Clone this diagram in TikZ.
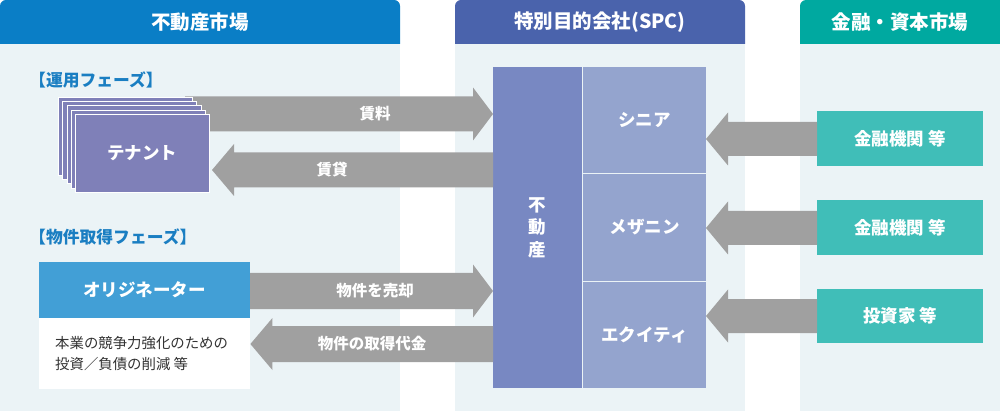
\documentclass[tikz,border=0pt]{standalone}
\usepackage{fontspec}
\setmainfont{Noto Sans CJK JP}
\usetikzlibrary{calc}
\definecolor{hdrL}{HTML}{0A7EC6}
\definecolor{hdrM}{HTML}{4A63AC}
\definecolor{hdrR}{HTML}{00A9A0}
\definecolor{bgc}{HTML}{EBF3F6}
\definecolor{fudoc}{HTML}{7888C2}
\definecolor{tranc}{HTML}{94A4CE}
\definecolor{tenc}{HTML}{7F80B8}
\definecolor{origc}{HTML}{429FD6}
\definecolor{finc}{HTML}{40BEB8}
\definecolor{arrc}{HTML}{A0A0A0}
\definecolor{phasec}{HTML}{1A7EC2}
\definecolor{txtc}{HTML}{333333}
% block arrow pointing right: #1 tail, #2 tip, #3 centre y, #4 shaft half, #5 head half, #6 head length
\newcommand\blkR[6]{%
  \fill[arrc] let \p1=(#1), \p2=(#2), \p3=(0,#3) in
    (\x1,\y3+#4pt) -- (\x2-#6pt,\y3+#4pt) -- (\x2-#6pt,\y3+#5pt) -- (\x2,\y3)
    -- (\x2-#6pt,\y3-#5pt) -- (\x2-#6pt,\y3-#4pt) -- (\x1,\y3-#4pt) -- cycle;}
% block arrow pointing left
\newcommand\blkL[6]{%
  \fill[arrc] let \p1=(#1), \p2=(#2), \p3=(0,#3) in
    (\x1,\y3+#4pt) -- (\x2+#6pt,\y3+#4pt) -- (\x2+#6pt,\y3+#5pt) -- (\x2,\y3)
    -- (\x2+#6pt,\y3-#5pt) -- (\x2+#6pt,\y3-#4pt) -- (\x1,\y3-#4pt) -- cycle;}
\begin{document}
\begin{tikzpicture}[x=1pt,y=-1pt,
  hdrtext/.style={text=white,font=\bfseries\fontsize{19.5}{22}\selectfont,inner sep=0pt},
  boxbase/.style={anchor=north west,inner sep=0pt,outer sep=0pt,text=white,align=center,
    font=\bfseries\fontsize{17.5}{22.5}\selectfont},
  fudobox/.style={boxbase,fill=fudoc,minimum width=89pt,minimum height=321pt},
  tranbox/.style={boxbase,fill=tranc,minimum width=123pt},
  finbox/.style={boxbase,fill=finc,minimum width=166pt},
  card/.style={anchor=north west,inner sep=0pt,fill=tenc,draw=white,line width=0.8pt,
    minimum width=134pt,minimum height=78pt},
  arrlabel/.style={text=white,font=\bfseries\fontsize{15.5}{18}\selectfont,inner sep=0pt},
  phase/.style={anchor=west,text=phasec,font=\bfseries\fontsize{16.8}{19}\selectfont,inner sep=0pt},
]
\useasboundingbox (0,0) rectangle (1000,411);
% column backgrounds
\fill[bgc] (0,44) rectangle (400,411);
\fill[bgc] (455,44) rectangle (745,411);
\fill[bgc] (800,44) rectangle (1000,411);
% headers
\fill[hdrL] (0,44) {[rounded corners=6pt] -- (0,0) -- (400,0)} -- (400,44) -- cycle;
\fill[hdrM] (455,44) {[rounded corners=6pt] -- (455,0) -- (745,0)} -- (745,44) -- cycle;
\fill[hdrR] (800,44) {[rounded corners=6pt] -- (800,0) -- (1006,0)} -- (1006,44) -- cycle;
\node[hdrtext] (hL) at (200,22) {不動産市場};
\node[hdrtext] (hM) at (600,22) {特別目的会社(SPC)};
\node[hdrtext] (hR) at (900,22) {金融・資本市場};

% phase labels
\node[phase] (ph1) at (29,80) {【運用フェーズ】};
\node[phase] (ph2) at (29,237) {【物件取得フェーズ】};

% SPC boxes
\node[fudobox] (fudo) at (493,67) {不\\動\\産};
\node[tranbox,minimum height=106pt] (sen) at (583,67) {シニア};
\node[tranbox,minimum height=107pt] (mez) at (583,174) {メザニン};
\node[tranbox,minimum height=106pt] (eq) at (583,282) {エクイティ};

% finance boxes
\node[finbox,minimum height=55pt] (fin1) at (817,111) {金融機関 等};
\node[finbox,minimum height=55pt] (fin2) at (817,200) {金融機関 等};
\node[finbox,minimum height=54pt] (fin3) at (817,289) {投資家 等};

% originator
\node[boxbase,fill=origc,minimum width=211pt,minimum height=56pt] (orig) at (39,262) {オリジネーター};
\node[anchor=north west,inner sep=0pt,fill=white,minimum width=211pt,minimum height=71pt] (desc) at (39,318) {};
\node[anchor=west,inner sep=0pt,text=txtc,align=left,font=\fontsize{14.4}{21}\selectfont] (desctext) at (55,353.5)
  {本業の競争力強化のための\\投資／負債の削減 等};

% arrows
\coordinate (ttail) at (185,114);
\blkR{ttail}{fudo.west}{114}{17.5}{26.5}{20}
\blkL{fudo.west}{212,170}{170}{17.5}{26}{22}
\blkR{orig.east}{fudo.west}{291}{18}{26.5}{20}
\blkL{fudo.west}{desc.east}{344}{18}{26}{22}
\blkL{fin1.west}{sen.east}{139}{17}{26.5}{22}
\blkL{fin2.west}{mez.east}{228}{17}{26.5}{22}
\blkL{fin3.west}{eq.east}{316}{17}{26.5}{22}

% tenant cards (drawn over arrow tail)
\foreach \i in {0,1,2,3} {
  \node[card] (card\i) at ({58+4.25*\i},{97+4.25*\i}) {};
}
\node[card,boxbase,draw=white,line width=0.8pt,minimum width=134pt,minimum height=78pt,fill=tenc] (ten) at (75,114) {テナント};

% arrow labels
\node[arrlabel] (l1) at (375,114) {賃料};
\node[arrlabel] (l2) at (332,170) {賃貸};
\node[arrlabel] (l3) at (375,291) {物件を売却};
\node[arrlabel] (l4) at (372,344) {物件の取得代金};
\end{tikzpicture}
\end{document}
